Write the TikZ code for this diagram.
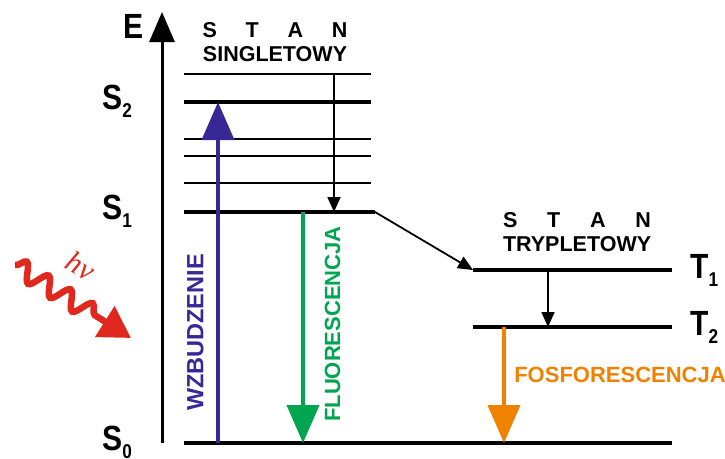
\documentclass[tikz,border=0pt]{standalone}
\usepackage{fontspec}
\setmainfont{Liberation Sans}
\newfontfamily\hvfont{Liberation Serif}
\usetikzlibrary{arrows.meta,decorations.pathmorphing,positioning}

\definecolor{wzbblue}{RGB}{55,40,150}
\definecolor{flgreen}{RGB}{0,165,80}
\definecolor{fosorange}{RGB}{240,130,0}
\definecolor{hvred}{RGB}{225,40,30}

\newcommand{\lvlname}[2]{#1{\fontsize{20}{20}\selectfont\raisebox{-8pt}{#2}}}

\begin{document}
\begin{tikzpicture} [
    x=1pt, y=-1pt,
    thinlvl/.style={line width=2pt},
    thicklvl/.style={line width=4.5pt},
    big/.style={font=\bfseries\fontsize{35}{35}\selectfont, xscale=0.86, inner sep=0pt, anchor=base west},
    head/.style={font=\bfseries\fontsize{21.5}{21.5}\selectfont, text width=145pt, align=center, inner sep=0pt},
    lab/.style={font=\bfseries\fontsize{22}{22}\selectfont, inner sep=0pt},
    relax/.style={line width=1.8pt, -{Triangle[length=15pt,width=13pt]}},
    trans/.style={line width=4pt, -{Triangle[length=38pt,width=32pt]}}
    ]
    \useasboundingbox (0,0) rectangle (725,458);

    %Axis
    \coordinate (ebot) at (162,443);
    \coordinate (etop) at (162,12);
    \draw[line width=3pt, -{Triangle[length=30pt,width=25pt]}] (ebot) -- (etop);
    \node[big] (e) at (123,38) {E};

    %Singlet levels
    \foreach \y in {74,139,156,183}
        \draw[thinlvl] (184,\y) -- (371,\y);
    \draw[thicklvl] (184,102) coordinate (s2l) -- (371,102) coordinate (s2r);
    \draw[thicklvl] (184,212) coordinate (s1l) -- (375,212) coordinate (s1r);
    \draw[thicklvl] (184,443) coordinate (s0l) -- (672,443) coordinate (s0r);

    %Triplet levels
    \draw[thicklvl] (473,270) coordinate (t1l) -- (672,270) coordinate (t1r);
    \draw[thicklvl] (473,327) coordinate (t2l) -- (672,327) coordinate (t2r);

    %Headers
    \node[head] (stan1) at (275,30) {S\hfill T\hfill A\hfill N};
    \node[head] (singlet) at (275,54) {SINGLETOWY};
    \node[head, text width=148pt] (stan2) at (577,220) {S\hfill T\hfill A\hfill N};
    \node[head, text width=148pt] (triplet) at (577,244) {TRYPLETOWY};

    %Level names
    \node[big] (ls2) at (102,109) {\lvlname{S}{2}};
    \node[big] (ls1) at (102,219) {\lvlname{S}{1}};
    \node[big] (ls0) at (102,450) {\lvlname{S}{0}};
    \node[big] (lt1) at (690,278) {\lvlname{T}{1}};
    \node[big] (lt2) at (690,335) {\lvlname{T}{2}};

    %Arrows
    \coordinate (vtop) at (334,74);
    \coordinate (vbot) at (334,212);
    \draw[relax] (vtop) -- (vbot);
    \draw[relax] (s1r) -- (t1l);
    \coordinate (ttop) at (548,270);
    \coordinate (tbot) at (548,327);
    \draw[relax] (ttop) -- (tbot);

    \coordinate (wzbot) at (218,443);
    \coordinate (wztop) at (218,102);
    \draw[trans, wzbblue] (wzbot) -- (wztop);
    \coordinate (fltop) at (303,212);
    \coordinate (flbot) at (303,443);
    \draw[trans, flgreen] (fltop) -- (flbot);
    \coordinate (fotop) at (504,327);
    \coordinate (fobot) at (504,443);
    \draw[trans, fosorange] (fotop) -- (fobot);

    \node[lab, wzbblue, rotate=90, font=\bfseries\fontsize{23.5}{23.5}\selectfont] (wzb) at (195.5,332.5) {WZBUDZENIE};
    \node[lab, flgreen, rotate=90] (flu) at (332.5,324) {FLUORESCENCJA};
    \node[lab, fosorange] (fos) at (620,375) {FOSFORESCENCJA};

    %Photon
    \coordinate (hvstart) at (15,265);
    \coordinate (hvend) at (131,338);
    \draw[hvred, line width=6.5pt, decorate,
        decoration={snake, amplitude=9pt, segment length=26pt, post length=33pt},
        -{Triangle[length=31pt,width=35pt]}] (hvstart) -- (hvend);
    \node[hvred, rotate=-30, font=\hvfont\itshape\fontsize{30}{30}\selectfont, inner sep=0pt] (hv) at (81,266) {hν};
\end{tikzpicture}
\end{document}
